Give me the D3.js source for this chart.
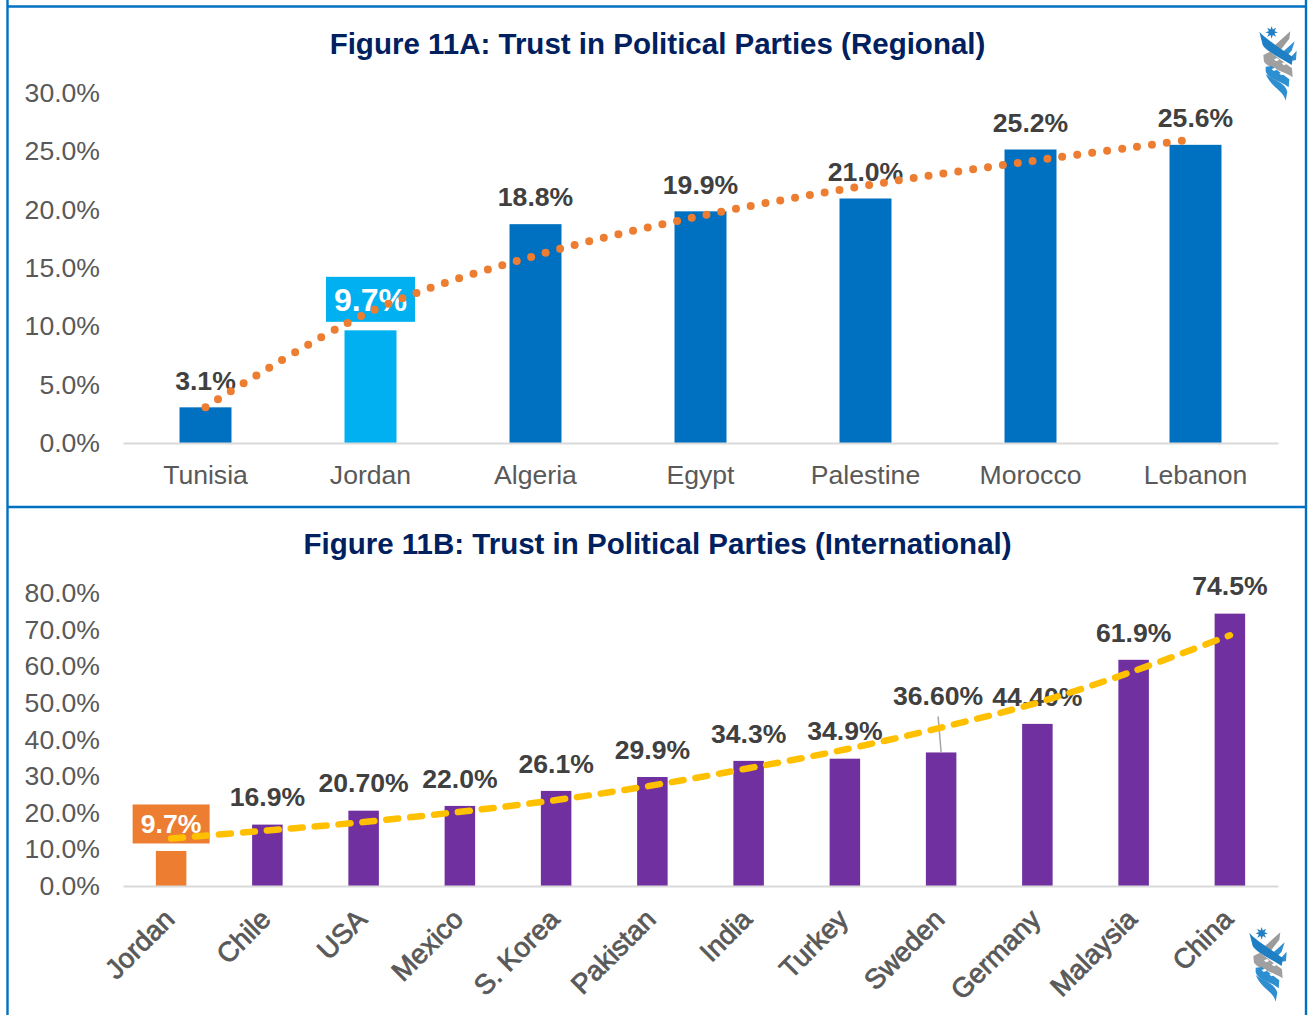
<!DOCTYPE html>
<html><head><meta charset="utf-8">
<script src="https://cdn.jsdelivr.net/npm/d3@7/dist/d3.min.js"></script>
<style>html,body{margin:0;padding:0;background:#fff}svg{display:block}text{font-family:"Liberation Sans",Arial,sans-serif}</style>
</head><body><svg id="c" width="1309" height="1015"></svg>
<script>
const regionalCategories=["Tunisia","Jordan","Algeria","Egypt","Palestine","Morocco","Lebanon"];
const regionalValues=[3.1,9.7,18.8,19.9,21.0,25.2,25.6];
const regionalLabels=["3.1%","9.7%","18.8%","19.9%","21.0%","25.2%","25.6%"];
const regionalTrend=[3.1,11.3,16.1,19.5,22.1,24.2,26.1];
const regionalTicks=[0,5,10,15,20,25,30];
const intlCategories=["Jordan","Chile","USA","Mexico","S. Korea","Pakistan","India","Turkey","Sweden","Germany","Malaysia","China"];
const intlValues=[9.7,16.9,20.7,22.0,26.1,29.9,34.3,34.9,36.6,44.4,61.9,74.5];
const intlLabels=["9.7%","16.9%","20.70%","22.0%","26.1%","29.9%","34.3%","34.9%","36.60%","44.40%","61.9%","74.5%"];
const intlTrend=[13.1,15.3,17.6,20.4,23.6,27.6,32.3,37.4,43.4,50.2,58.8,68.6];
const intlTicks=[0,10,20,30,40,50,60,70,80];

const svg=d3.select("#c");
const BLUE="#0070C0";
svg.append("g").attr("fill","none").attr("stroke",BLUE).attr("stroke-width",2.4)
  .call(g=>{
    g.append("path").attr("d","M7.5,0V1015");
    g.append("path").attr("d","M1306,0V1015");
    g.append("path").attr("d","M7,6.5H1306");
    g.append("path").attr("d","M7,507H1306");
  });

function panel(o){
  const x=d3.scaleBand().domain(o.cats).range([123,1278]).paddingInner(o.pad).paddingOuter(o.pad/2);
  const y=d3.scaleLinear().domain(o.dom).range(o.yr);
  const g=svg.append("g");
  g.append("text").attr("x",657.5).attr("y",o.titleY).attr("text-anchor","middle")
    .attr("font-size",o.titleSize).attr("font-weight",700).attr("fill","#002060").text(o.title);
  const ya=g.append("g").attr("transform","translate(100,-0.5)")
    .call(d3.axisLeft(y).tickValues(o.ticks).tickSize(0).tickPadding(0).tickFormat(d=>d.toFixed(1)+"%"));
  ya.select(".domain").remove();
  ya.selectAll("text").attr("font-size",26.6).attr("fill","#595959").attr("font-family",null);
  g.append("g").selectAll("rect").data(o.vals).join("rect")
    .attr("x",(d,i)=>x(o.cats[i])).attr("width",x.bandwidth())
    .attr("y",d=>y(d)).attr("height",d=>y(0)-y(d))
    .attr("fill",(d,i)=>i===o.hi?o.hiColor:o.color);
  const xa=g.append("g").attr("transform",`translate(0,${o.yr[0]-0.5})`)
    .call(d3.axisBottom(x).tickSize(0).tickPadding(o.tickPad));
  xa.select(".domain").attr("stroke","#D9D9D9").attr("stroke-width",2);
  xa.selectAll("text").attr("font-size",26.6).attr("fill","#595959").attr("font-family",null);
  if(o.rotate){
    xa.selectAll("text").attr("text-anchor","end").attr("dy",null).attr("font-size",27.6)
      .attr("stroke","#595959").attr("stroke-width",0.8)
      .attr("transform","translate(5,"+(o.rotY)+") rotate(-45)").attr("y",0);
  }
  const hx=x(o.cats[o.hi])+x.bandwidth()/2, hy=y(o.vals[o.hi])-o.hiOff;
  g.append("rect").attr("x",hx-o.boxW/2).attr("width",o.boxW).attr("y",hy-o.boxH/2).attr("height",o.boxH).attr("fill",o.hiColor);
  if(o.leader) g.append("line").attr("x1",x(o.cats[o.leader])+x.bandwidth()/2-3).attr("y1",y(o.vals[o.leader])-36)
     .attr("x2",x(o.cats[o.leader])+x.bandwidth()/2).attr("y2",y(o.vals[o.leader])).attr("stroke","#A6A6A6").attr("stroke-width",1.5);
  g.append("g").selectAll("text").data(o.labels).join("text")
    .attr("x",(d,i)=>x(o.cats[i])+x.bandwidth()/2+(o.nudgeX[i]||0))
    .attr("y",(d,i)=>y(o.vals[i])-(i===o.hi?o.hiOff:o.labOff)-(o.nudgeY[i]||0))
    .attr("dy","0.35em").attr("text-anchor","middle").attr("font-size",(d,i)=>i===o.hi?o.hiFont:26.6).attr("font-weight",700)
    .attr("fill",(d,i)=>i===o.hi?"#fff":"#404040").text(d=>d);
  const line=d3.line().x((d,i)=>x(o.cats[i])+x.bandwidth()/2).y(d=>y(d)).curve(d3.curveCatmullRom);
  g.append("path").attr("d",line(o.trend)).attr("fill","none").attr("stroke",o.trendColor)
    .attr("stroke-width",o.tw).attr("stroke-linecap","round").attr("stroke-dasharray",o.dash);
}

panel({title:"Figure 11A: Trust in Political Parties (Regional)",titleY:54,titleSize:29.5,cats:regionalCategories,vals:regionalValues,labels:regionalLabels,trend:regionalTrend,
  ticks:regionalTicks,dom:[0,30],yr:[443.5,93.5],pad:0.685,color:BLUE,hi:1,hiColor:"#00B0F0",hiOff:31,hiFont:32,boxW:89,boxH:45,labOff:27,nudgeX:{},nudgeY:{},
  tickPad:22,trendColor:"#ED7D31",tw:8,dash:"0 15.03"});
panel({title:"Figure 11B: Trust in Political Parties (International)",titleY:554,titleSize:29.5,cats:intlCategories,vals:intlValues,labels:intlLabels,trend:intlTrend,
  ticks:intlTicks,dom:[0,80],yr:[886.5,593.5],pad:0.683,color:"#7030A0",hi:0,hiColor:"#ED7D31",hiOff:27,hiFont:26.6,boxW:77,boxH:39,labOff:27.5,nudgeX:{8:-3},nudgeY:{8:29},leader:8,
  tickPad:20,rotate:true,rotY:35,trendColor:"#FFC000",tw:6.5,dash:"12 12"});

function logo(tx,ty){
  const g=svg.append("g").attr("transform",`translate(${tx},${ty}) scale(0.3333)`);
  const star=d3.range(16).map(i=>{const r=i%2?9:19,a=i*Math.PI/8;return [215+r*Math.sin(a),97-r*Math.cos(a)];});
  g.append("polygon").attr("points",star.join(" ")).attr("fill","#1F7FC4");
  const shapes=[
   ["M222,138L271,94L268,116L240,152Z","#9B9B9B"],
   ["M248,156L284,124L275,152L262,166Z","#2E8FD0"],
   ["M272,172L290,152L288,180L278,182Z","#2E8FD0"],
   ["M178,95C195,115 235,140 279,172L275,195C235,170 200,155 188,135Z","#1F7FC4"],
   ["M190,165L210,155L276,205L278,232C250,212 205,205 192,185Z","#A0A0A0"],
   ["M197,200L215,198L268,238L266,262C240,240 205,240 197,214Z","#2E8FD0"],
   ["M197,222C215,238 255,245 262,275L257,302C250,270 215,265 197,222Z","#2E8FD0"],
   ["M222,178l10,-4l6,6l-10,4Z","#fff"],
   ["M245,190l10,-4l6,6l-10,4Z","#fff"],
   ["M215,207l10,-4l6,6l-10,4Z","#fff"],
   ["M238,220l10,-4l6,6l-10,4Z","#fff"]
  ];
  g.selectAll("path").data(shapes).join("path").attr("d",d=>d[0]).attr("fill",d=>d[1]);
}
logo(1200,0);
logo(1190,901);
</script></body></html>
